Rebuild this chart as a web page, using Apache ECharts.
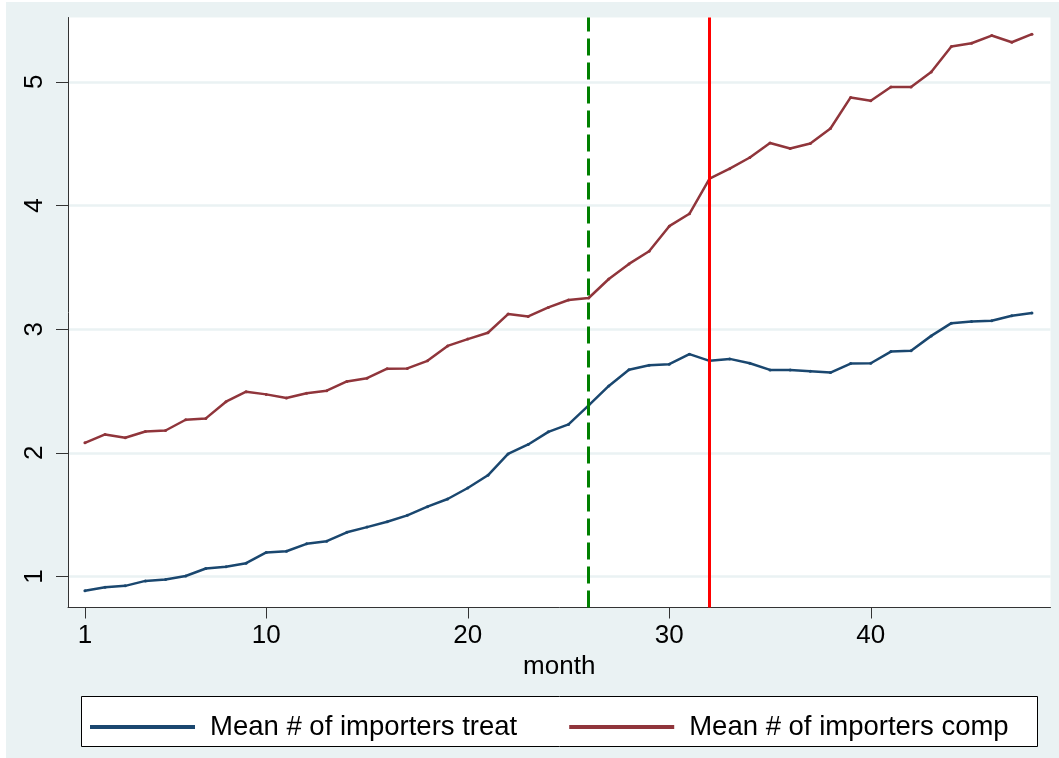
<!DOCTYPE html>
<html>
<head>
<meta charset="utf-8">
<script src="https://cdn.jsdelivr.net/npm/echarts@6/dist/echarts.min.js"></script>
<style>
html,body{margin:0;padding:0;background:#ffffff;}
#chart{position:absolute;left:6px;top:2px;width:1053px;height:756px;}
</style>
</head>
<body>
<div id="chart"></div>
<script>
var months = [1,2,3,4,5,6,7,8,9,10,11,12,13,14,15,16,17,18,19,20,21,22,23,24,25,26,27,28,29,30,31,32,33,34,35,36,37,38,39,40,41,42,43,44,45,46,47,48];
var treat = [0.886,0.913,0.925,0.965,0.976,1.005,1.065,1.079,1.108,1.195,1.205,1.265,1.286,1.358,1.400,1.443,1.495,1.565,1.627,1.716,1.819,1.992,2.068,2.170,2.230,2.384,2.541,2.672,2.709,2.717,2.798,2.744,2.760,2.725,2.671,2.671,2.660,2.649,2.722,2.725,2.819,2.825,2.946,3.049,3.062,3.068,3.109,3.131];
var comp = [2.081,2.149,2.122,2.173,2.181,2.268,2.279,2.414,2.495,2.473,2.444,2.482,2.503,2.578,2.604,2.681,2.683,2.744,2.865,2.920,2.971,3.122,3.103,3.176,3.236,3.252,3.406,3.528,3.630,3.833,3.933,4.217,4.298,4.388,4.506,4.461,4.501,4.623,4.874,4.847,4.958,4.958,5.079,5.285,5.312,5.374,5.320,5.385];
var xTicks = [1,10,20,30,40];
var yTicks = [1,2,3,4,5];
var eventGreen = 26;
var eventRed = 32;
var seriesNames = ['Mean # of importers treat','Mean # of importers comp'];

function pairs(xs, ys){ return xs.map(function(x,i){ return [x, ys[i]]; }); }

var chart = echarts.init(document.getElementById('chart'));
var font = 'Liberation Sans, Arial, sans-serif';
chart.setOption({
  backgroundColor: '#EAF2F3',
  animation: false,
  textStyle: {fontFamily: font},
  grid: {left: 62, top: 15.5, right: 8.5, bottom: 150.5, show: true, backgroundColor: '#ffffff', borderWidth: 0, containLabel: false},
  xAxis: {
    type: 'value', min: 0.16, max: 48.92,
    name: 'month', nameLocation: 'middle', nameGap: 46,
    nameTextStyle: {fontSize: 26, color: '#000', fontFamily: font},
    axisLine: {show: true, lineStyle: {color: '#333', width: 1}},
    axisTick: {show: true, length: 11, lineStyle: {color: '#333'}, customValues: xTicks},
    axisLabel: {fontSize: 26, color: '#000', margin: 15, customValues: xTicks, fontFamily: font},
    splitLine: {show: false}
  },
  yAxis: {
    type: 'value', min: 0.75, max: 5.52,
    axisLine: {show: true, lineStyle: {color: '#333', width: 1}},
    axisTick: {show: true, length: 12, lineStyle: {color: '#333'}, customValues: yTicks},
    axisLabel: {fontSize: 26, color: '#000', rotate: 90, margin: 20, customValues: yTicks, fontFamily: font},
    splitLine: {show: false}
  },
  legend: {
    show: true, data: seriesNames, left: 79, top: 706,
    icon: 'rect', itemWidth: 105, itemHeight: 4, itemGap: 52,
    textStyle: {fontSize: 27.5, color: '#000', fontFamily: font, padding: [0,0,0,10]}
  },
  graphic: [{
    type: 'rect', left: 75, top: 694, z: -1,
    shape: {width: 956, height: 50},
    style: {fill: '#ffffff', stroke: '#000000', lineWidth: 1}
  }],
  series: [
    {
      type: 'line', name: 'grid', data: [], z: 0, silent: true,
      markLine: {
        silent: true, symbol: 'none', label: {show: false}, z: 0,
        lineStyle: {color: '#EAF2F3', width: 2.5, type: 'solid'},
        data: yTicks.map(function(v){ return {yAxis: v}; })
      }
    },
    {
      type: 'line', name: seriesNames[0], data: pairs(months, treat), z: 3,
      symbol: 'circle', symbolSize: 3, showSymbol: true,
      itemStyle: {color: '#1A476F'},
      lineStyle: {color: '#1A476F', width: 2.5}
    },
    {
      type: 'line', name: seriesNames[1], data: pairs(months, comp), z: 3,
      symbol: 'circle', symbolSize: 3, showSymbol: true,
      itemStyle: {color: '#90353B'},
      lineStyle: {color: '#90353B', width: 2.5},
      markLine: {
        silent: true, symbol: 'none', label: {show: false}, animation: false, z: 5,
        data: [
          {xAxis: eventGreen, lineStyle: {color: '#008000', width: 3, type: [17, 7]}},
          {xAxis: eventRed, lineStyle: {color: '#FF0000', width: 3, type: 'solid'}}
        ]
      }
    }
  ]
});
</script>
</body>
</html>
